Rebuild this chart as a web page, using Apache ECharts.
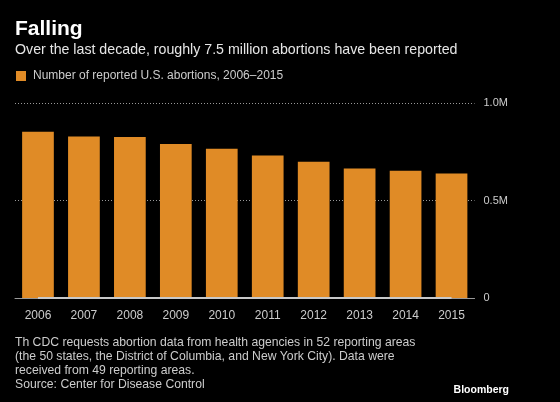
<!DOCTYPE html>
<html><head><meta charset="utf-8">
<script src="https://cdn.jsdelivr.net/npm/echarts@6/dist/echarts.min.js"></script>
<style>html,body{margin:0;padding:0;background:#000;}#c{width:560px;height:402px;}</style>
</head><body><div id="c"></div>
<script>
const years = ['2006','2007','2008','2009','2010','2011','2012','2013','2014','2015'];
const abortions = [852385, 827609, 825564, 789217, 765651, 730322, 699202, 664435, 652639, 638169];
const yTicks = [0, 500000, 1000000];
const yTickLabels = ['0', '0.5M', '1.0M'];
const seriesName = 'Number of reported U.S. abortions, 2006–2015';
const FONT = '"Liberation Sans", sans-serif';

const chart = echarts.init(document.getElementById('c'), null, {renderer: 'canvas'});
chart.setOption({
  backgroundColor: '#000',
  animation: false,
  title: [
    {text: 'Falling', left: 15, top: 19, padding: 0, textStyle: {color: '#fff', fontSize: 21, fontWeight: 'bold', fontFamily: FONT}},
    {text: 'Over the last decade, roughly 7.5 million abortions have been reported', left: 15, top: 43, padding: 0,
     textStyle: {color: '#e6e6e6', fontSize: 14.2, fontWeight: 'normal', fontFamily: FONT}},
    {text: 'Th CDC requests abortion data from health agencies in 52 reporting areas\n(the 50 states, the District of Columbia, and New York City). Data were\nreceived from 49 reporting areas.\nSource: Center for Disease Control',
     left: 15, top: 335, padding: 0, textStyle: {color: '#cccccc', fontSize: 12.2, fontWeight: 'normal', lineHeight: 14.3, fontFamily: FONT}},
    {text: 'Bloomberg', right: 51, top: 385, padding: 0, textStyle: {color: '#fff', fontSize: 10.5, fontWeight: 'bold', fontFamily: FONT}}
  ],
  legend: {
    data: [seriesName], left: 16, top: 70, padding: 0, icon: 'rect', itemWidth: 10, itemHeight: 10, itemGap: 6,
    textStyle: {color: '#cccccc', fontSize: 12, fontFamily: FONT, padding: [0, 0, 0, 2]}
  },
  grid: {left: 15, right: 85.5, top: 103, bottom: 104},
  xAxis: {
    type: 'category', data: years,
    axisLine: {lineStyle: {color: '#999', width: 1}},
    axisTick: {show: true, alignWithLabel: true, inside: true, length: 3, lineStyle: {color: '#ccc'}},
    axisLabel: {color: '#cccccc', fontSize: 12, margin: 12, fontFamily: FONT}
  },
  yAxis: {
    type: 'value', position: 'right', min: 0, max: 1000000, interval: 500000,
    axisLine: {show: false}, axisTick: {show: false},
    axisLabel: {color: '#cccccc', fontSize: 11, margin: 9, fontFamily: FONT,
      formatter: v => yTickLabels[yTicks.indexOf(v)]},
    splitLine: {lineStyle: {color: '#999', type: [1, 2], width: 1}}
  },
  series: [{
    name: seriesName, type: 'bar', data: abortions, barWidth: '69%',
    itemStyle: {color: '#e08b26'},
    markLine: {
      silent: true, symbol: 'none', label: {show: false},
      lineStyle: {color: '#c8c8c8', width: 2, type: 'solid'},
      data: [[{xAxis: years[0], yAxis: 0}, {xAxis: years[years.length - 1], yAxis: 0}]]
    }
  }]
});
</script></body></html>
